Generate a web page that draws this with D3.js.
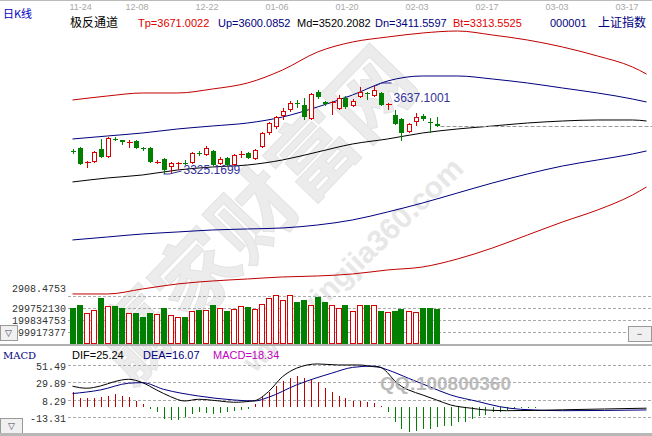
<!DOCTYPE html>
<html><head><meta charset="utf-8">
<script src="https://cdn.jsdelivr.net/npm/d3@7"></script>
<style>body{margin:0;background:#fff}svg{display:block}</style>
</head><body><svg id="c" width="652" height="436"></svg>
<script>
// ---- data ----
const dateTicks = ["11-24","12-08","12-22","01-06","01-20","02-03","02-17","03-03","03-17"];
const dateTickIdx = [0, 8, 18, 28, 38, 48, 58, 68, 78];

const openP  = [3406.7,3417.3,3366.0,3367.7,3413.8,3385.4,3449.2,3445.7,3437.0,3442.1,3415.5,3417.3,3366.0,3378.3,3350.0,3362.4,3364.1,3364.1,3399.6,3392.5,3406.7,3360.6,3381.9,3357.0,3394.3,3399.6,3378.3,3420.9,3470.5,3491.8,3530.7,3552.0,3576.8,3569.7,3520.1,3615.8,3580.4,3578.6,3555.6,3594.6,3566.2,3598.1,3612.3,3601.7,3612.3,3571.5,3534.3,3520.1,3474.0,3509.5,3530.7,3507.7,3502.4];
const highP  = [3413.8,3420.9,3371.2,3406.7,3449.2,3456.3,3456.3,3445.7,3445.7,3445.7,3420.9,3420.9,3374.8,3381.9,3367.7,3367.7,3374.8,3403.1,3406.7,3424.4,3410.2,3385.4,3385.4,3396.1,3406.7,3403.1,3413.8,3474.0,3509.5,3530.7,3559.1,3583.9,3587.5,3594.6,3612.3,3622.9,3583.9,3583.9,3605.2,3601.7,3591.0,3633.6,3615.8,3637.1001,3615.8,3576.8,3552.0,3523.7,3505.9,3541.4,3537.8,3523.7,3527.2];
const lowP   = [3396.1,3357.0,3346.4,3364.1,3381.9,3381.9,3442.1,3428.0,3417.3,3413.8,3406.7,3364.1,3360.6,3325.1699,3328.7,3339.3,3357.0,3360.6,3389.0,3389.0,3353.5,3357.0,3353.5,3353.5,3381.9,3378.3,3374.8,3417.3,3463.4,3484.7,3516.6,3544.9,3559.1,3516.6,3516.6,3591.0,3566.2,3534.3,3552.0,3555.6,3562.6,3594.6,3587.5,3598.1,3566.2,3552.0,3498.9,3442.1,3470.5,3495.3,3513.0,3470.5,3491.8];
const closeP = [3403.1,3360.6,3367.7,3403.1,3385.4,3452.8,3447.5,3438.6,3438.6,3417.3,3413.8,3367.7,3367.7,3339.3,3364.1,3364.1,3362.4,3399.6,3397.8,3417.3,3357.0,3378.3,3357.0,3392.5,3396.1,3381.9,3410.2,3470.5,3505.9,3527.2,3548.5,3576.8,3575.0,3527.2,3608.7,3598.1,3573.3,3580.4,3594.6,3562.6,3583.9,3615.8,3610.5,3622.9,3569.7,3573.3,3502.4,3470.5,3502.4,3527.2,3520.1,3505.9,3495.3];
// volume, millions of shares
const volumeM = [297,325,261,283,381,317,317,300,261,258,228,261,250,300,242,228,228,278,283,283,325,300,278,289,317,311,292,333,381,408,367,408,353,367,325,394,353,325,300,325,278,325,325,325,278,269,278,292,278,269,297,297,292];
const volTicks = [99917377, 199834753, 299752130, 399669507];
const volTickLabels = ["99917377", "199834753", "299752130"];

// channel lines (极反通道), sampled days
const chanIdx = [0,5,10,15,20,25,30,35,40,45,50,55,60,65,70,75,80,82];
const tpVals = [3587.5,3601.7,3612.3,3612.3,3626.5,3647.7,3693.8,3757.6,3793.1,3810.8,3825.0,3832.1,3817.9,3800.2,3775.4,3743.5,3704.5,3679.6];
const upVals = [3449.2,3459.9,3470.5,3484.7,3495.3,3505.9,3527.2,3562.7,3605.2,3654.8,3672.6,3672.6,3661.9,3647.7,3630.0,3612.3,3591.0,3580.4];
const mdVals = [3296.8,3311.0,3321.6,3339.3,3350.0,3357.0,3374.8,3403.1,3431.5,3449.2,3470.5,3484.7,3495.3,3505.9,3513.0,3516.6,3516.6,3513.0];
const dnVals = [3091.2,3101.8,3112.4,3119.5,3126.6,3130.2,3133.7,3144.3,3162.1,3190.4,3222.3,3257.8,3293.2,3325.2,3353.5,3374.8,3396.1,3406.7];
const btVals = [2899.7,2899.7,2917.5,2935.2,2945.8,2952.9,2960.0,2963.5,2970.6,2984.8,2995.4,3023.8,3062.8,3108.9,3155.0,3197.5,3250.7,3279.1];

// MACD
const macdHist = [18.34,10.4,10.4,10.4,11.6,13.6,15.5,13.7,11.6,7.5,3,-3,-6.8,-15,-17,-17,-13,-9,-7,-8,-9,-8,-7,-5,-3.7,-3,3.3,11.6,17.8,26,32,36,37.6,36,34,30,22.8,17.8,13.7,10.4,7.5,7.5,6.2,5,0.5,-7,-19.4,-27.6,-31.8,-29.8,-27.6,-27.6,-25.6,-24.3,-23.5,-19.4,-18.6,-15.3,-11.1,-10.3,-7,-6.2,-3.7,-2.9,-2,-1.6,-1.3,-1.0,-0.8,-0.6,-0.5,-0.4,-0.3,-0.3,-0.2,-0.2,-0.1,-0.1,-0.1,-0.1,0,0,0];
const difIdx = [0,2,4,6,8,10,12,14,16,18,21,23,26,28,30,32,35,38,41,43,44,45,46,47,48,50,52,54,57,59,62,66,70,76,82];
const difVals = [25.24,22.7,25.5,30.9,33.8,29.6,20.6,12.3,6.9,9.0,6.9,5.3,7.3,18.5,37,47.5,52.8,51.5,51.5,49.4,48.5,42,32,25,20.6,14.4,8.2,2,-2.1,-4.2,-5.1,-4.8,-4,-3,-2];
const deaIdx = [0,4,8,10,13,18,23,26,28,32,37,40,43,45,48,51,54,58,61,64,70,82];
const deaVals = [16.07,20.6,28.9,29.6,21.4,13.1,8.2,6.9,11.5,26.8,41.3,48.5,50.2,45.5,35,24.6,14.4,6.1,-0.1,-3.4,-5.1,-4.2];
const macdTicks = [51.49, 29.89, 8.29, -13.31];

// ---- drawing ----
const svg = d3.select("#c");
const W = 652;
const x = d3.scaleLinear().domain([0, 82]).range([72.5, 72.5 + 82 * 7]);
const yP = d3.scaleLinear().domain([2908.4753, 3637.1001]).range([291.5, 86]);
const yV = d3.scaleLinear().domain([0, 299.752130]).range([344, 308]);
const yM = d3.scaleLinear().domain([-13.31, 51.49]).range([417.3, 365]);

const RED = "#d80000", GREEN = "#007f00", NAVY = "#000080", LRED = "#c00000";
const sans = "'Liberation Sans', Arial, sans-serif";
const cjk = "'Noto Sans CJK SC', sans-serif";
const mono = "'Liberation Mono', 'DejaVu Sans Mono', monospace";

// watermark (behind)
const wm = svg.append("g").attr("opacity", 0.5);
wm.append("text").attr("transform", "translate(276,236) rotate(-46)")
  .attr("text-anchor", "middle").attr("font-family", cjk).attr("font-weight", "bold")
  .attr("font-size", 84).attr("fill", "#dadada").attr("stroke", "#c8c8c8").attr("stroke-width", 1)
  .text("赢家财富网");
wm.append("text").attr("transform", "translate(360,272) rotate(-44)")
  .attr("text-anchor", "middle").attr("font-family", sans).attr("font-weight", "bold")
  .attr("font-size", 30).attr("fill", "#d0d0d0")
  .text("www.yingjia360.com");

// top date axis
svg.append("line").attr("x1", 0).attr("x2", W).attr("y1", 0.5).attr("y2", 0.5).attr("stroke", "#bbb");
svg.selectAll(".dt").data(dateTicks).join("text")
  .attr("x", (d, i) => x(dateTickIdx[i]) - 3).attr("y", 10)
  .attr("font-family", sans).attr("font-size", 9).attr("fill", "#a8a8a8").text(d => d);

svg.append("text").attr("x", 3).attr("y", 18).attr("font-family", cjk).attr("font-size", 11)
  .attr("fill", "#0000c8").text("日K线");

// header
const hdr = [
  {t: "极反通道", x: 70, c: "#000", f: cjk, s: 12},
  {t: "Tp=3671.0022", x: 138, c: "#e00000", f: sans, s: 11},
  {t: "Up=3600.0852", x: 218, c: NAVY, f: sans, s: 11},
  {t: "Md=3520.2082", x: 297, c: "#000", f: sans, s: 11},
  {t: "Dn=3411.5597", x: 375, c: NAVY, f: sans, s: 11},
  {t: "Bt=3313.5525", x: 453, c: "#e00000", f: sans, s: 11},
  {t: "000001", x: 550, c: NAVY, f: sans, s: 11},
  {t: "上证指数", x: 598, c: NAVY, f: cjk, s: 12}
];
svg.selectAll(".hd").data(hdr).join("text")
  .attr("x", d => d.x).attr("y", 27).attr("font-family", d => d.f).attr("font-size", d => d.s)
  .attr("fill", d => d.c).text(d => d.t);

// channel lines
const chanLine = vals => d3.line().curve(d3.curveMonotoneX)
  .x((d, i) => x(chanIdx[i])).y(d => yP(d))(vals);
[[tpVals, LRED], [upVals, NAVY], [mdVals, "#000"], [dnVals, NAVY], [btVals, LRED]].forEach(([v, c]) => {
  svg.append("path").attr("d", chanLine(v)).attr("fill", "none").attr("stroke", c).attr("stroke-width", 1);
});

// last close dashed line
const n = closeP.length;
svg.append("line").attr("x1", x(n - 1) + 4).attr("x2", W).attr("y1", Math.round(yP(closeP[n - 1])) + 0.5)
  .attr("y2", Math.round(yP(closeP[n - 1])) + 0.5).attr("stroke", "#999").attr("stroke-dasharray", "4,2");

// candles
const cg = svg.append("g").attr("shape-rendering", "crispEdges");
d3.range(n).forEach(i => {
  const o = openP[i], c = closeP[i], h = highP[i], l = lowP[i];
  const up = c >= o;
  const col = up ? RED : GREEN;
  const cx = Math.round(x(i)) + 0.5;
  const top = Math.round(yP(Math.max(o, c))), bot = Math.round(yP(Math.min(o, c)));
  const hy = Math.round(yP(h)), ly = Math.round(yP(l));
  if (up) {
    cg.append("line").attr("x1", cx).attr("x2", cx).attr("y1", hy).attr("y2", top).attr("stroke", col);
    cg.append("line").attr("x1", cx).attr("x2", cx).attr("y1", Math.max(bot, top + 1)).attr("y2", ly).attr("stroke", col);
    if (bot - top <= 1) {
      cg.append("line").attr("x1", cx - 3).attr("x2", cx + 3).attr("y1", top + 0.5).attr("y2", top + 0.5).attr("stroke", col);
    } else {
      cg.append("rect").attr("x", cx - 2).attr("y", top + 0.5).attr("width", 4).attr("height", bot - top - 1)
        .attr("fill", "#fff").attr("stroke", col);
    }
  } else {
    cg.append("line").attr("x1", cx).attr("x2", cx).attr("y1", hy).attr("y2", ly).attr("stroke", col);
    cg.append("rect").attr("x", cx - 2.5).attr("y", top).attr("width", 5).attr("height", Math.max(1, bot - top))
      .attr("fill", col);
  }
});

// high / low markers
const hiI = highP.indexOf(d3.max(highP)), loI = lowP.indexOf(d3.min(lowP));
svg.append("text").attr("x", x(hiI) + 20).attr("y", yP(highP[hiI]) + 16).attr("font-family", sans)
  .attr("font-size", 12).attr("fill", "#333399").text(d3.max(highP).toFixed(4));
svg.append("polyline").attr("points", `${x(hiI)+2},${yP(highP[hiI])} ${x(hiI)+8},${yP(highP[hiI])-3} ${x(hiI)+18},${yP(highP[hiI])-3}`)
  .attr("fill", "none").attr("stroke", "#333399");
svg.append("text").attr("x", x(loI) + 20).attr("y", yP(lowP[loI]) + 0).attr("font-family", sans)
  .attr("font-size", 12).attr("fill", "#333399").text(d3.min(lowP).toFixed(4));
svg.append("polyline").attr("points", `${x(loI)},${yP(lowP[loI])} ${x(loI)+6},${yP(lowP[loI])} ${x(loI)+18},${yP(lowP[loI])-3}`)
  .attr("fill", "none").attr("stroke", "#333399");

// price bottom label
svg.append("text").attr("x", 66).attr("y", 292).attr("text-anchor", "end").attr("font-family", mono)
  .attr("font-size", 10).attr("fill", "#333").text("2908.4753");

// volume grid + labels
volTicks.forEach(v => {
  const yy = Math.round(yV(v / 1e6)) + 0.5;
  svg.append("line").attr("x1", 68).attr("x2", W).attr("y1", yy).attr("y2", yy)
    .attr("stroke", "#aaa").attr("stroke-dasharray", "3,2");
});
volTickLabels.forEach(t => {
  svg.append("text").attr("x", 66).attr("y", yV(+t / 1e6) + 4).attr("text-anchor", "end")
    .attr("font-family", mono).attr("font-size", 10).attr("fill", "#333").text(t);
});
const vg = svg.append("g").attr("shape-rendering", "crispEdges");
volumeM.forEach((v, i) => {
  const up = closeP[i] >= openP[i];
  const cx = Math.round(x(i));
  const yy = Math.round(yV(v));
  if (up) {
    vg.append("rect").attr("x", cx - 2.5).attr("y", yy + 0.5).attr("width", 5).attr("height", 343 - yy)
      .attr("fill", "#fff").attr("stroke", RED);
  } else {
    vg.append("rect").attr("x", cx - 3).attr("y", yy).attr("width", 6).attr("height", 344 - yy).attr("fill", GREEN);
  }
});

// buttons
function btn(bx, by, w, h, t) {
  svg.append("rect").attr("x", bx + 0.5).attr("y", by + 0.5).attr("width", w).attr("height", h)
    .attr("fill", "#f0f0f0").attr("stroke", "#9a9a9a");
  svg.append("text").attr("x", bx + w / 2).attr("y", by + h - 4).attr("text-anchor", "middle")
    .attr("font-family", sans).attr("font-size", 9).attr("fill", "#445").text(t);
}
btn(0, 325, 17, 15, "▽");
btn(628, 326, 23, 15, "−");

// separator
svg.append("rect").attr("x", 0).attr("y", 344).attr("width", W).attr("height", 2).attr("fill", "#b0b0b0");

// MACD panel
svg.append("text").attr("x", 3).attr("y", 359).attr("font-family", "'DejaVu Serif', serif").attr("font-size", 10)
  .attr("fill", NAVY).text("MACD");
[{t: "DIF=25.24", x: 72, c: "#000"}, {t: "DEA=16.07", x: 143, c: NAVY}, {t: "MACD=18.34", x: 213, c: "#c000c0"}]
  .forEach(d => svg.append("text").attr("x", d.x).attr("y", 359).attr("font-family", sans).attr("font-size", 11)
    .attr("fill", d.c).text(d.t));
macdTicks.forEach(v => {
  const yy = Math.round(yM(v)) + 0.5;
  svg.append("line").attr("x1", 68).attr("x2", W).attr("y1", yy).attr("y2", yy)
    .attr("stroke", "#aaa").attr("stroke-dasharray", "3,2");
  svg.append("text").attr("x", 66).attr("y", yy + 4).attr("text-anchor", "end").attr("font-family", mono)
    .attr("font-size", 10).attr("fill", "#333").text(v.toFixed(2));
});
const mg = svg.append("g").attr("shape-rendering", "crispEdges");
macdHist.forEach((v, i) => {
  const cx = Math.round(x(i)) + 0.5;
  mg.append("line").attr("x1", cx).attr("x2", cx).attr("y1", yM(0)).attr("y2", yM(v))
    .attr("stroke", v >= 0 ? LRED : GREEN);
});
const mline = (idx, vals) => d3.line().curve(d3.curveMonotoneX).x((d, i) => x(idx[i])).y(d => yM(d))(vals);
svg.append("path").attr("d", mline(deaIdx, deaVals)).attr("fill", "none").attr("stroke", NAVY);
svg.append("path").attr("d", mline(difIdx, difVals)).attr("fill", "none").attr("stroke", "#000");

svg.append("text").attr("x", 380).attr("y", 390).attr("font-family", sans).attr("font-weight", "bold")
  .attr("font-size", 19).attr("fill", "#b0b0b0").attr("opacity", 0.85).text("QQ:100800360");

btn(0, 418, 22, 15, "▽");
svg.append("rect").attr("x", 0).attr("y", 433).attr("width", W).attr("height", 3).attr("fill", "#b8b8b8");
</script></body></html>
